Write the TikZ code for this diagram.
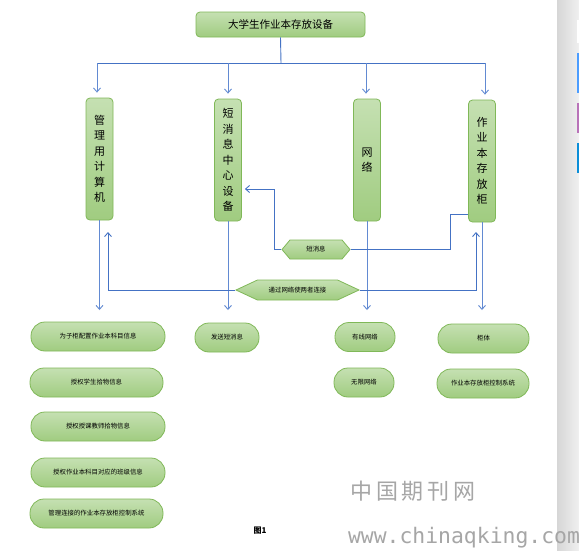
\documentclass[tikz,border=0pt]{standalone}
\usepackage{fontspec}
\setmainfont{Noto Sans CJK SC}
\newfontfamily\monofont{DejaVu Sans Mono}
\usetikzlibrary{arrows.meta,shapes.symbols,shapes.misc}
\definecolor{gtop}{RGB}{197,224,178}
\definecolor{gbot}{RGB}{160,204,128}
\definecolor{gborder}{RGB}{128,184,88}
\definecolor{lblue}{RGB}{68,114,196}
\definecolor{vblue}{RGB}{98,138,210}
\begin{document}
\begin{tikzpicture}[x=1pt,y=-1pt,
  greenfill/.style={draw=gborder, line width=0.8pt, top color=gtop, bottom color=gbot},
  topbox/.style={greenfill, rounded corners=4pt, minimum width=169pt, minimum height=25pt, inner sep=0pt, font=\fontsize{10.5}{12}\selectfont},
  vbox/.style={greenfill, rounded corners=4pt, minimum width=27pt, minimum height=122pt, inner sep=0pt, align=center, font=\fontsize{11}{15.5}\selectfont},
  pill/.style={greenfill, rounded corners=14pt, minimum height=29pt, inner sep=0pt, font=\fontsize{6.4}{7}\selectfont},
  hexa/.style={greenfill, signal, signal to=west and east, inner sep=0pt, font=\fontsize{6.4}{7}\selectfont},
  conn/.style={draw=lblue, line width=0.9pt},
  vconn/.style={draw=vblue, line width=1pt},
  arr/.style={-{Straight Barb[length=4pt,width=7pt,line width=0.9pt]}}
]
\useasboundingbox (0,0) rectangle (579,550);
\fill[white] (0,0) rectangle (579,550);
% page side strip
\fill[left color=black!16, right color=black!6] (557,0) rectangle (579,550);
\fill[white] (576.5,20) rectangle (579,43);
\fill[blue!55!cyan!70] (576.5,53) rectangle (579,93);
\fill[violet!55] (576.5,103) rectangle (579,133);
\fill[cyan!75!blue] (576.5,143) rectangle (579,173);

% nodes
\node[topbox] (top) at (280.5,24.5) {大学生作业本存放设备};
\node[vbox] (b1) at (99.5,159) {管\\理\\用\\计\\算\\机};
\node[vbox] (b2) at (228,160) {短\\消\\息\\中\\心\\设\\备};
\node[vbox] (b3) at (367,160) {网\\络};
\node[vbox] (b4) at (482,161) {作\\业\\本\\存\\放\\柜};

\node[hexa, minimum width=68pt, minimum height=19pt, signal pointer angle=100] (hA) at (316,249.5) {短消息};
\node[hexa, minimum width=123pt, minimum height=20pt, signal pointer angle=50] (hB) at (297.5,290) {通过网络使两者连接};

\node[pill, minimum width=134pt] (l1) at (98,336.5) {为子柜配置作业本科目信息};
\node[pill, minimum width=133pt] (l2) at (96.5,382.5) {授权学生拾物信息};
\node[pill, minimum width=134pt] (l3) at (98,426.5) {授权授课教师拾物信息};
\node[pill, minimum width=134pt] (l4) at (98,472.5) {授权作业本科目对应的班级信息};
\node[pill, minimum width=133pt] (l5) at (96.5,513.5) {管理连接的作业本存放柜控制系统};

\node[pill, minimum width=64pt] (m1) at (227,337.5) {发送短消息};
\node[pill, minimum width=60pt] (n1) at (365,337) {有线网络};
\node[pill, minimum width=60pt] (n2) at (364,382.5) {无限网络};
\node[pill, minimum width=91pt] (r1) at (483.5,338.5) {柜体};
\node[pill, minimum width=92pt] (r2) at (483,383.5) {作业本存放柜控制系统};

% top distribution
\coordinate (hub) at (281,63);
\coordinate (d1) at (97,63);
\coordinate (d2) at (228,63);
\coordinate (d3) at (366,63);
\coordinate (d4) at (485,63);
\draw[conn] (top.south) -- (hub);
\draw[conn] (d1) -- (d4);
\foreach \d/\b in {d1/b1,d2/b2,d3/b3,d4/b4}
  \draw[vconn, arr, shorten >=5pt] (\d) -- (\d |- \b.north);

% bottom arrows
\coordinate (e) at (0,310);
\foreach \b in {b1,b2,b3,b4}
  \draw[vconn, arr] (\b.south) -- (\b.south |- e);

% short message links
\coordinate (k1) at (274,189);
\coordinate (k2) at (450,214);
\draw[conn, arr, shorten >=3pt] (hA.west) -| (k1) -- (k1 -| b2.east);
\draw[conn] (hA.east) -| (k2) -- (k2 -| b4.west);

% network links
\coordinate (u1) at (108,220);
\coordinate (u2) at (476,222);
\draw[conn, arr, shorten >=12pt] (hB.west) -| (u1);
\draw[conn, arr, shorten >=10pt] (hB.east) -| (u2);

% caption
\node[font=\fontsize{8}{9}\selectfont\bfseries] (cap) at (260,531) {图1};

% watermark
\node[text=black!35, font=\fontsize{22}{24}\selectfont] (wm1) at (413,491) {中\,国\,期\,刊\,网};
\node[text=black!35, font=\monofont\fontsize{21.4}{24}\selectfont] (wm2) at (464,538) {www.chinaqking.com};
\end{tikzpicture}
\end{document}
